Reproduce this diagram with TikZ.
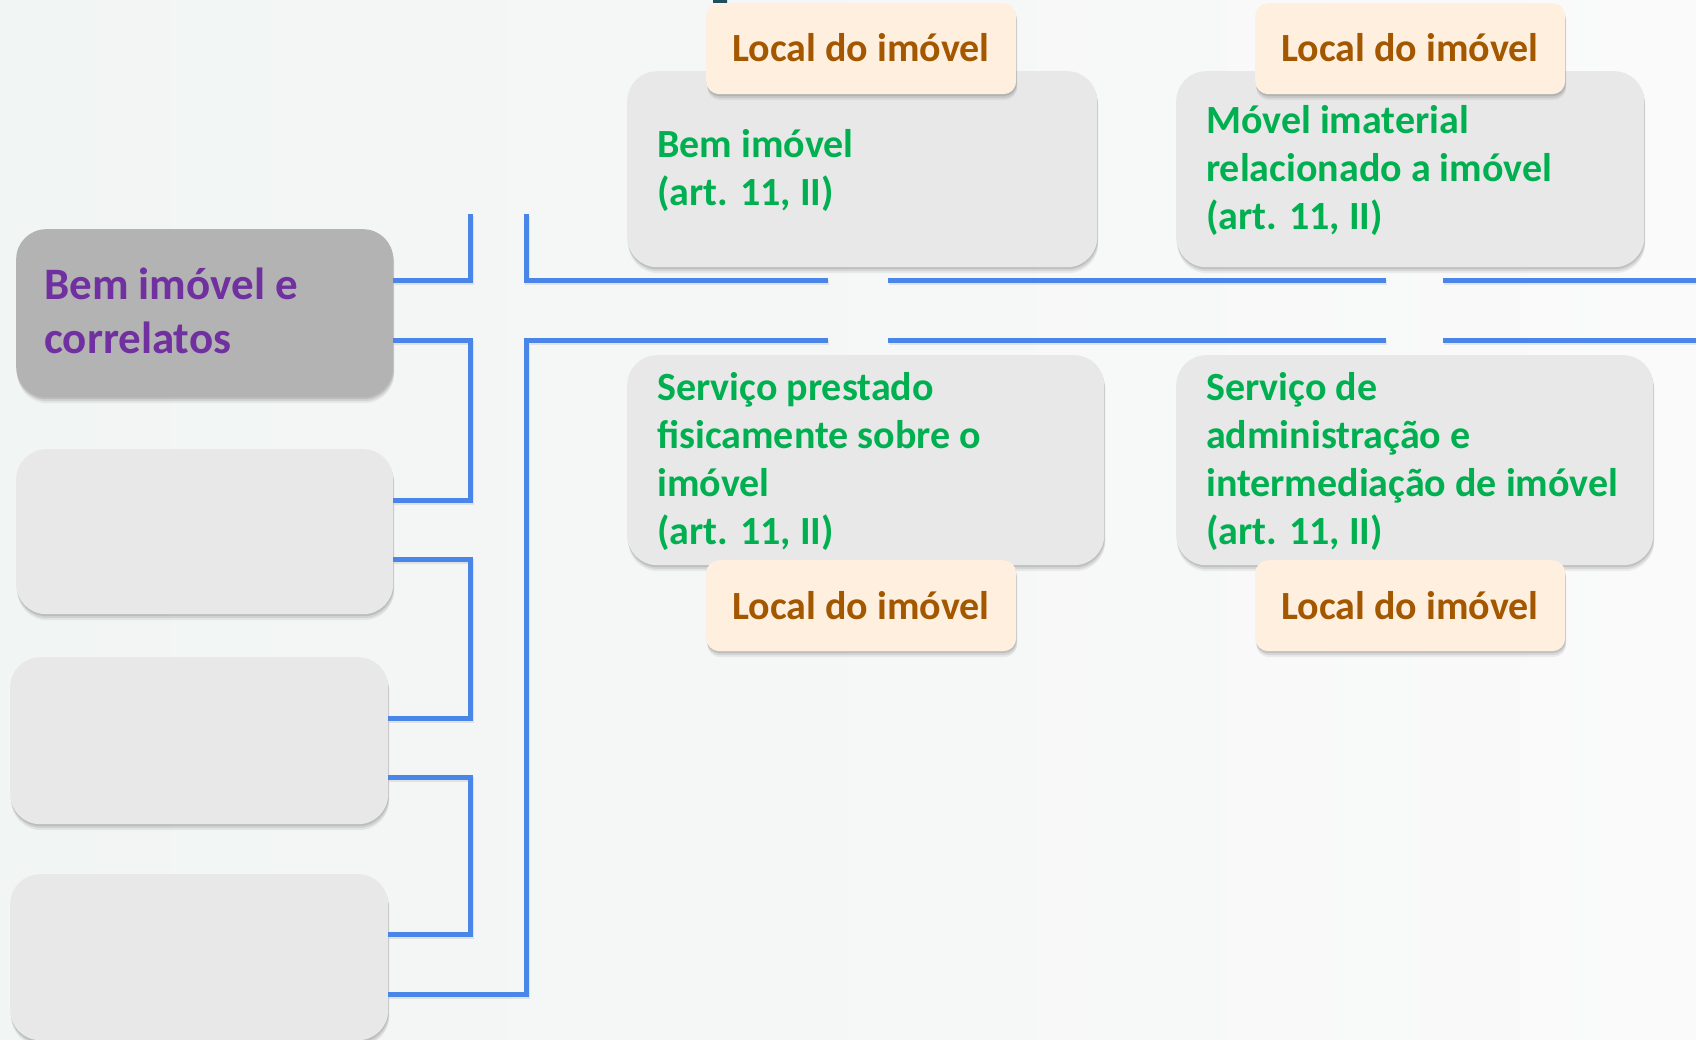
\documentclass[tikz,border=0pt]{standalone}
\usepackage{fontspec}
\setmainfont{Carlito}
\usetikzlibrary{shadows}
\definecolor{bgL}{HTML}{F1F5F3}
\definecolor{bgR}{HTML}{FAFAFA}
\definecolor{conncol}{HTML}{4A86E8}
\definecolor{boxgray}{HTML}{E8E8E8}
\definecolor{boxdark}{HTML}{B3B3B3}
\definecolor{labfill}{HTML}{FFEFDF}
\definecolor{labtext}{HTML}{A35800}
\definecolor{greentext}{HTML}{00B050}
\definecolor{purpletext}{HTML}{7030A0}
\definecolor{fragcol}{HTML}{1F4E5F}
\tikzset{
  softshadow/.style={
    drop shadow={shadow xshift=1pt, shadow yshift=-6pt, opacity=0.06, fill=black},
    drop shadow={shadow xshift=1pt, shadow yshift=-4pt, opacity=0.08, fill=black},
    drop shadow={shadow xshift=0.5pt, shadow yshift=-2pt, opacity=0.10, fill=black}},
  graybox/.style={draw=none, fill=boxgray, rounded corners=30pt, inner sep=0pt, anchor=north west, softshadow},
  darkbox/.style={graybox, fill=boxdark},
  labbox/.style={draw=none, fill=labfill, rounded corners=13pt, inner sep=0pt, anchor=north west,
    minimum width=310pt, minimum height=91pt, softshadow},
  labtxt/.style={text=labtext, font=\fontsize{40}{48}\selectfont\bfseries, inner sep=0pt, anchor=base},
  gtxt/.style={text=greentext, font=\fontsize{40}{48}\selectfont\bfseries, inner sep=0pt, anchor=base west},
  ptxt/.style={text=purpletext, font=\fontsize{45}{53}\selectfont\bfseries, inner sep=0pt, anchor=base west},
  conn/.style={draw=conncol, line width=5pt,
    preaction={draw=black, draw opacity=0.08, line width=5pt, transform canvas={xshift=1pt, yshift=-2pt}}},
}
\begin{document}
\begin{tikzpicture}[x=1pt,y=-1pt]
\useasboundingbox (0,0) rectangle (1696,1040);
\shade[left color=bgL, right color=bgR] (0,0) rectangle (1696,1040);
% title fragment
\fill[fragcol] (713,0) -- (727,0) -- (727,6) -- (722,6) -- (722,3) -- (713,3) -- cycle;

% left boxes
\node[darkbox, minimum width=377pt, minimum height=168pt] (box1) at (16,229) {};
\node[graybox, minimum width=377pt, minimum height=165pt] (box2) at (16,449) {};
\node[graybox, minimum width=378pt, minimum height=167pt] (box3) at (10,657) {};
\node[graybox, minimum width=378pt, minimum height=166pt] (box4) at (10,874) {};

% right gray boxes
\node[graybox, minimum width=470pt, minimum height=196pt] (bemimovel) at (627,71) {};
\node[graybox, minimum width=468pt, minimum height=196pt] (movelimat) at (1176,71) {};
\node[graybox, minimum width=477pt, minimum height=210pt] (servpres) at (627,355) {};
\node[graybox, minimum width=477pt, minimum height=210pt] (servadm) at (1176,355) {};

% labels
\node[labbox] (lab1) at (706,3) {};
\node[labbox] (lab2) at (1255,3) {};
\node[labbox] (lab3) at (706,560) {};
\node[labbox] (lab4) at (1255,560) {};
\node[labtxt] (lab1t) at (861,62) {Local do imóvel};
\node[labtxt] (lab2t) at (1410,62) {Local do imóvel};
\node[labtxt] (lab3t) at (861,619) {Local do imóvel};
\node[labtxt] (lab4t) at (1410,619) {Local do imóvel};

% texts
\node[ptxt] (p1) at (44,300) {Bem imóvel e};
\node[ptxt] (p2) at (44,353) {correlatos};

\node[gtxt] (a1) at (657,158) {Bem imóvel};
\node[gtxt] (a2) at (657,206) {(art. 11, II)};

\node[gtxt] (b1) at (1206,134) {Móvel imaterial};
\node[gtxt] (b2) at (1206,182) {relacionado a imóvel};
\node[gtxt] (b3) at (1206,230) {(art. 11, II)};

\node[gtxt] (c1) at (657,400) {Serviço prestado};
\node[gtxt] (c2) at (657,448) {fisicamente sobre o};
\node[gtxt] (c3) at (657,496) {imóvel};
\node[gtxt] (c4) at (657,544) {(art. 11, II)};

\node[gtxt] (d1) at (1206,400) {Serviço de};
\node[gtxt] (d2) at (1206,448) {administração e};
\node[gtxt] (d3) at (1206,496) {intermediação de imóvel};
\node[gtxt] (d4) at (1206,544) {(art. 11, II)};

% connector coordinates
\coordinate (h1) at (0,281);
\coordinate (h2) at (0,340);
\coordinate (t1) at (470,214);
\coordinate (t2) at (526,214);
\coordinate (k1) at (470,500);
\coordinate (k2a) at (0,559);
\coordinate (k2b) at (470,718);
\coordinate (k3a) at (0,777);
\coordinate (k3b) at (470,934);
\coordinate (k4) at (0,994);
\coordinate (u2) at (526,340);
\coordinate (e1) at (828,281);
\coordinate (e2) at (828,340);
\coordinate (s1a) at (888,281);
\coordinate (s1b) at (1386,281);
\coordinate (s2a) at (1443,281);
\coordinate (s2b) at (1696,281);
\coordinate (s3a) at (888,340);
\coordinate (s3b) at (1386,340);
\coordinate (s4a) at (1443,340);
\coordinate (s4b) at (1696,340);

% connectors
\draw[conn] (box1.east |- h1) -| (t1);
\draw[conn] (box1.east |- h2) -| (k1) -- (box2.east |- k1);
\draw[conn] (box2.east |- k2a) -| (k2b) -- (box3.east |- k2b);
\draw[conn] (box3.east |- k3a) -| (k3b) -- (box4.east |- k3b);
\draw[conn] (box4.east |- k4) -| (u2) -- (e2);
\draw[conn] (t2) |- (e1);
\draw[conn] (s1a) -- (s1b);
\draw[conn] (s2a) -- (s2b);
\draw[conn] (s3a) -- (s3b);
\draw[conn] (s4a) -- (s4b);
\end{tikzpicture}
\end{document}
